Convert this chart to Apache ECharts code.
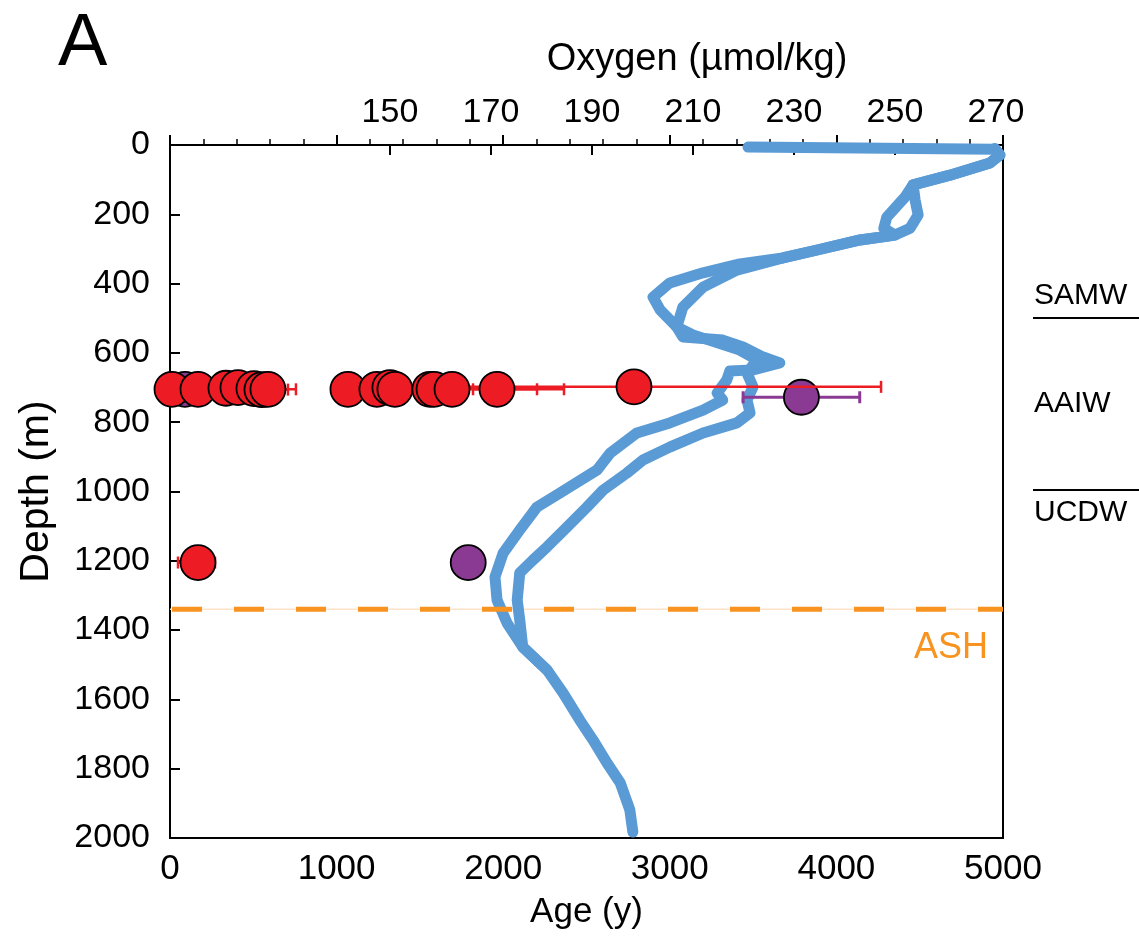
<!DOCTYPE html>
<html>
<head>
<meta charset="utf-8">
<script src="https://cdn.jsdelivr.net/npm/echarts@6/dist/echarts.min.js"></script>
<style>html,body{margin:0;padding:0;background:#fff}#c{width:1139px;height:945px}</style>
</head>
<body>
<div id="c"></div>
<script>
// ---- data ----
var ageTicks = [0, 1000, 2000, 3000, 4000, 5000];
var oxygenTicks = [150, 170, 190, 210, 230, 250, 270];
var oxygenTickMarks = [150, 170, 190, 210, 230, 250];
var depthTicks = [0, 200, 400, 600, 800, 1000, 1200, 1400, 1600, 1800, 2000];

// oxygen profile 1 [oxygen µmol/kg, depth m]
var oxygenProfile1 = [[220.9,6],[269.8,12],[270.8,29],[268.8,52],[260.9,87],[253.6,115],[252.0,150],[248.4,208],[247.8,240],[250.0,260],[243.1,274],[234.6,303],[227.8,326],[219.3,343],[212.0,369],[205.4,398],[202.1,439],[203.5,476],[206.8,525],[208.0,554],[215.9,563],[219.9,583],[223.9,612],[227.2,629],[221.9,649],[217.3,652],[216.7,678],[214.8,716],[215.9,736],[212.0,765],[205.4,802],[198.9,831],[193.6,889],[191.0,938],[183.7,1004],[179.1,1045],[175.7,1111],[172.4,1178],[170.8,1247],[171.2,1313],[173.2,1380],[176.3,1449],[181.1,1515],[184.3,1582],[187.6,1660],[190.2,1717],[193.0,1784],[195.6,1841],[197.5,1919],[198.1,1983]];
// oxygen profile 2
var oxygenProfile2 = [[269.8,10],[270.8,29],[268.8,52],[260.9,87],[253.6,115],[254.0,159],[254.6,202],[253.0,240],[250.0,260],[243.1,274],[234.6,303],[227.8,326],[218.7,361],[212.0,410],[208.0,468],[206.8,525],[210.0,548],[219.3,592],[222.7,620],[220.7,658],[221.9,698],[220.7,736],[221.3,773],[218.7,802],[212.0,831],[205.4,872],[200.1,909],[196.9,947],[192.2,996],[189.0,1045],[185.1,1102],[181.1,1160],[178.3,1198],[175.7,1235],[175.2,1313],[175.7,1371],[176.3,1449],[181.1,1515]];

// radiocarbon ages: [age y, depth m, low, high]
var redAges = [[12,705,0,60],[168,705,80,260],[336,702,250,420],[408,700,330,490],[504,703,420,590],[552,706,400,708],[588,705,420,756],[1068,705,1000,1140],[1242,705,1170,1320],[1320,700,1250,1390],[1350,705,1280,1420],[1560,705,1490,1630],[1585,705,1510,1660],[1693,705,1100,2365],[1963,705,1819,2203],[2785,698,1300,4268],[168,1205,48,270]];
var purpleAges = [[90,705,40,140],[3790,728,3440,4140],[1790,1205,1790,1790]];
var ashDepth = 1340;

var font = 'Liberation Sans, Arial, sans-serif';
var chart = echarts.init(document.getElementById('c'));

function errBar(color, width) {
  return function (params, api) {
    var y = api.value(1);
    var p1 = api.coord([api.value(2), y]);
    var p2 = api.coord([api.value(3), y]);
    var h = 6;
    var st = {stroke: color, lineWidth: width};
    return {type: 'group', children: [
      {type: 'line', shape: {x1: p1[0], y1: p1[1], x2: p2[0], y2: p2[1]}, style: st},
      {type: 'line', shape: {x1: p1[0], y1: p1[1] - h, x2: p1[0], y2: p1[1] + h}, style: st},
      {type: 'line', shape: {x1: p2[0], y1: p2[1] - h, x2: p2[0], y2: p2[1] + h}, style: st}
    ]};
  };
}
function plain(v) { return String(v); }

var option = {
  animation: false,
  backgroundColor: '#fff',
  grid: {left: 170, right: 136, top: 145, bottom: 107, show: true, borderColor: '#000', borderWidth: 2, backgroundColor: 'transparent'},
  xAxis: [{
    type: 'value', position: 'bottom', min: 0, max: 5000, interval: 1000,
    name: 'Age (y)', nameLocation: 'middle', nameGap: 57,
    nameTextStyle: {fontFamily: font, fontSize: 35, color: '#000'},
    axisLine: {show: true, lineStyle: {color: '#000', width: 2}},
    axisTick: {show: true, inside: true, length: 10, lineStyle: {color: '#000', width: 2}},
    minorTick: {show: true, splitNumber: 5, length: 6, lineStyle: {color: '#000', width: 1.5}},
    axisLabel: {fontFamily: font, fontSize: 35, color: '#000', margin: 14, formatter: plain},
    splitLine: {show: false}
  }, {
    type: 'value', position: 'top', min: 106.44, max: 271.4,
    axisLine: {show: true, lineStyle: {color: '#000', width: 2}},
    axisTick: {show: true, inside: true, length: 10, customValues: oxygenTickMarks, lineStyle: {color: '#000', width: 2}},
    axisLabel: {fontFamily: font, fontSize: 34, color: '#000', margin: 15, customValues: oxygenTicks, formatter: plain},
    splitLine: {show: false}
  }],
  yAxis: [{
    type: 'value', inverse: true, min: 0, max: 2000, interval: 200,
    name: 'Depth (m)', nameLocation: 'middle', nameGap: 113, nameRotate: 90,
    nameTextStyle: {fontFamily: font, fontSize: 41, color: '#000'},
    axisLine: {show: true, lineStyle: {color: '#000', width: 2}},
    axisTick: {show: true, inside: true, length: 10, lineStyle: {color: '#000', width: 2}},
    axisLabel: {fontFamily: font, fontSize: 34, color: '#000', margin: 20, formatter: plain},
    splitLine: {show: false}
  }],
  series: [
    {type: 'line', xAxisIndex: 0, yAxisIndex: 0, data: [[0, ashDepth], [5000, ashDepth]], showSymbol: false, silent: true,
      lineStyle: {color: '#fde3c8', width: 1.5}, z: 1},
    {type: 'line', xAxisIndex: 1, yAxisIndex: 0, data: oxygenProfile1, showSymbol: false,
      lineStyle: {color: '#5b9bd5', width: 11, cap: 'round', join: 'round'}, z: 2},
    {type: 'line', xAxisIndex: 1, yAxisIndex: 0, data: oxygenProfile2, showSymbol: false,
      lineStyle: {color: '#5b9bd5', width: 11, cap: 'round', join: 'round'}, z: 2},
    {type: 'line', xAxisIndex: 0, yAxisIndex: 0, data: [[0, ashDepth], [5000, ashDepth]], showSymbol: false, silent: true,
      lineStyle: {color: '#f7931e', width: 5, type: [30, 32], dashOffset: -2}, z: 3},
    {type: 'custom', xAxisIndex: 0, yAxisIndex: 0, data: purpleAges, renderItem: errBar('#8b3a93', 3), z: 4},
    {type: 'scatter', xAxisIndex: 0, yAxisIndex: 0, data: purpleAges, symbolSize: 35,
      itemStyle: {color: '#8b3a93', borderColor: '#000', borderWidth: 1.8, opacity: 1}, z: 5},
    {type: 'custom', xAxisIndex: 0, yAxisIndex: 0, data: redAges, renderItem: errBar('#ed1c24', 2.5), z: 6},
    {type: 'scatter', xAxisIndex: 0, yAxisIndex: 0, data: redAges, symbolSize: 35,
      itemStyle: {color: '#ed1c24', borderColor: '#000', borderWidth: 1.8, opacity: 1}, z: 7}
  ],
  graphic: [
    {type: 'text', left: 58, top: 8, style: {text: 'A', font: '74px ' + font, fill: '#000'}},
    {type: 'text', x: 697, y: 60, style: {text: 'Oxygen (µmol/kg)', font: '38px ' + font, fill: '#000', align: 'center', verticalAlign: 'middle'}},
    {type: 'text', left: 1034, top: 281, style: {text: 'SAMW', font: '30px ' + font, fill: '#000'}},
    {type: 'line', shape: {x1: 1033, y1: 318, x2: 1139, y2: 318}, style: {stroke: '#000', lineWidth: 2}},
    {type: 'text', left: 1034, top: 389, style: {text: 'AAIW', font: '30px ' + font, fill: '#000'}},
    {type: 'line', shape: {x1: 1033, y1: 490, x2: 1139, y2: 490}, style: {stroke: '#000', lineWidth: 2}},
    {type: 'text', left: 1034, top: 498, style: {text: 'UCDW', font: '30px ' + font, fill: '#000'}},
    {type: 'text', left: 914, top: 630, style: {text: 'ASH', font: '36px ' + font, fill: '#f7931e'}}
  ]
};
chart.setOption(option);
</script>
</body>
</html>
